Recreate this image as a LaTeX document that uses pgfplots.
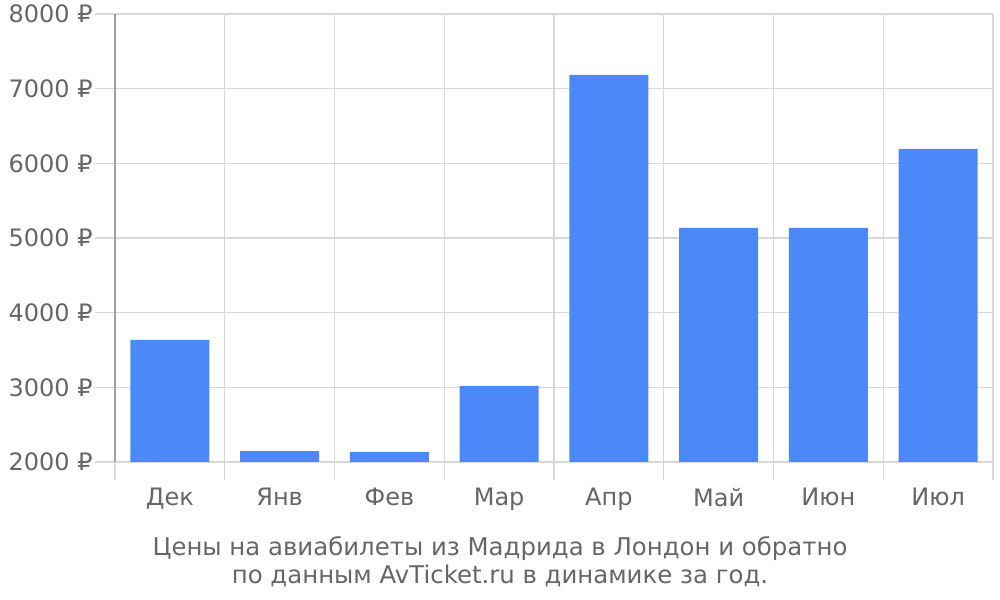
\documentclass[border=0pt]{standalone}
\usepackage{fontspec}
\setmainfont{DejaVu Sans}
\usepackage{pgfplots}
\pgfplotsset{compat=1.18}
\definecolor{barblue}{RGB}{75,137,249}
\definecolor{txt}{RGB}{102,102,102}
\definecolor{gridc}{RGB}{216,216,216}
\definecolor{axc}{RGB}{160,160,160}
\begin{document}
\begin{tikzpicture}[font=\fontsize{12}{14}\selectfont]
\begin{axis}[
  scale only axis,
  width=439pt, height=224pt,
  xmin=-0.5, xmax=7.5,
  ymin=2000, ymax=8000,
  xtick={0,1,2,3,4,5,6,7},
  xticklabels={Дек,Янв,Фев,Мар,Апр,Май,Июн,Июл},
  minor xtick={-0.5,0.5,...,7.5},
  ytick={2000,3000,4000,5000,6000,7000,8000},
  yticklabels={2000 ₽,3000 ₽,4000 ₽,5000 ₽,6000 ₽,7000 ₽,8000 ₽},
  xminorgrids=true, ymajorgrids=true,
  grid style={draw=gridc, line width=0.6pt},
  minor grid style={draw=gridc, line width=0.6pt},
  tick align=outside,
  xtick pos=bottom, ytick pos=left,
  major tick length=10pt, minor tick length=9pt,
  every major x tick/.append style={draw=none},
  every minor x tick/.append style={draw=gridc, line width=0.6pt},
  every major y tick/.append style={draw=gridc, line width=0.6pt},
  axis x line*=bottom, axis y line*=left,
  x axis line style={draw=gridc, line width=0.6pt, -},
  y axis line style={draw=axc, line width=0.6pt, -},
  tick label style={text=txt, font=\fontsize{12}{14}\selectfont},
  yticklabel style={inner sep=1pt},
  xticklabel style={inner sep=2pt, yshift=-1pt},
  ybar, bar width=0.72,
]
\addplot[fill=barblue, draw=none] coordinates {
  (0,3634) (1,2147) (2,2134) (3,3018) (4,7183) (5,5134) (6,5134) (7,6192)
};
\coordinate (bl) at (rel axis cs:-0.13098,-0.30804);
\coordinate (tr) at (rel axis cs:1.00797,1.03125);
\coordinate (ttl) at (rel axis cs:0.4385,-0.165);
\end{axis}
\node[anchor=north, align=center, text=txt, inner sep=0pt, font=\fontsize{12.2}{14}\selectfont] at (ttl)
  {Цены на авиабилеты из Мадрида в Лондон и обратно\\по данным AvTicket.ru в динамике за год.};
\pgfresetboundingbox
\path (bl) rectangle (tr);
\end{tikzpicture}
\end{document}
